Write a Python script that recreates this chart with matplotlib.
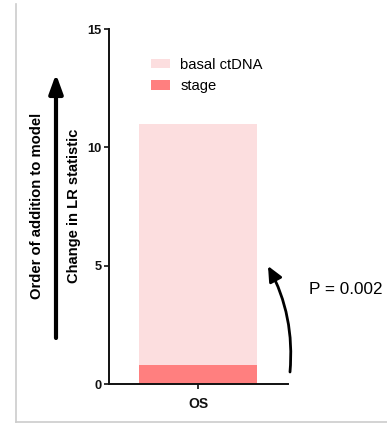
import matplotlib.pyplot as plt
from matplotlib.lines import Line2D
from matplotlib.patches import FancyArrowPatch

plt.rcParams["font.family"] = ["Liberation Sans", "DejaVu Sans"]

# change in LR statistic for each term, stacked in order of addition
outcomes = ["OS"]
terms = ["stage", "basal ctDNA"]
stage_lr = [0.8]
ctdna_lr = [10.2]
colors = {"stage": "#ff7f7f", "basal ctDNA": "#fcdedf"}
p_label = "P = 0.002"
y_ticks = [0, 5, 10, 15]

W, H = 387, 423
fig = plt.figure(figsize=(W / 100, H / 100), dpi=100)
ax = fig.add_axes([109 / W, 1 - 384 / H, 179 / W, 355 / H])

x = list(range(len(outcomes)))
ax.bar(x, stage_lr, width=1.0, color=colors["stage"], label="stage", zorder=2)
ax.bar(x, ctdna_lr, width=1.0, bottom=stage_lr, color=colors["basal ctDNA"],
       label="basal ctDNA", zorder=2)

ax.set_xlim(-0.754, 0.763)
ax.set_ylim(0, 15)
ax.set_yticks(y_ticks)
ax.set_xticks(x)
ax.set_xticklabels(outcomes)
for side in ("top", "right"):
    ax.spines[side].set_visible(False)
for side in ("left", "bottom"):
    ax.spines[side].set_linewidth(1.4)
    ax.spines[side].set_color("#111111")
ax.tick_params(axis="both", length=3.5, width=1.2, colors="#111111")
ax.tick_params(axis="y", pad=2)
ax.tick_params(axis="x", pad=6)
for lab in ax.get_yticklabels():
    lab.set_fontweight("bold")
    lab.set_fontsize(9.3)
for lab in ax.get_xticklabels():
    lab.set_fontweight("bold")
    lab.set_fontsize(10)

handles, labels = ax.get_legend_handles_labels()
ax.legend(handles[::-1], labels[::-1], loc="upper left",
          bbox_to_anchor=(151 / W, 1 - 58 / H), bbox_transform=fig.transFigure,
          frameon=False, fontsize=10.6, borderpad=0, borderaxespad=0,
          handlelength=1.3, handleheight=0.6, handletextpad=0.7,
          labelspacing=0.5)

# y-axis titles and the "order of addition" arrow
fig.text(37 / W, 1 - 206 / H, "Order of addition to model", rotation=90,
         ha="center", va="center", fontsize=10.7, fontweight="bold")
fig.text(74 / W, 1 - 205.5 / H, "Change in LR statistic", rotation=90,
         ha="center", va="center", fontsize=10.6, fontweight="bold")
fig.add_artist(FancyArrowPatch((56 / W, 1 - 338 / H), (56 / W, 1 - 74 / H),
                               transform=fig.transFigure,
                               arrowstyle="-|>,head_length=8.8,head_width=3.2",
                               mutation_scale=1.3, lw=3.0, color="black",
                               shrinkA=0, shrinkB=0))

# curved arrow for the test between the nested models
fig.add_artist(FancyArrowPatch((290 / W, 1 - 372 / H), (268 / W, 1 - 266 / H),
                               transform=fig.transFigure,
                               connectionstyle="arc3,rad=0.15",
                               arrowstyle="-|>,head_length=7,head_width=3.2",
                               mutation_scale=1.3, lw=2.0, color="black",
                               shrinkA=0, shrinkB=0))
fig.text(309 / W, 1 - 290 / H, p_label, ha="left", va="center", fontsize=12.3)

# light frame on the left and bottom
frame = "#cccccc"
fig.add_artist(Line2D([16 / W, 16 / W], [1 - 4 / H, 1 - 421.5 / H],
                      transform=fig.transFigure, color=frame, lw=1.2))
fig.add_artist(Line2D([16 / W, 1.0], [1 - 421.5 / H, 1 - 421.5 / H],
                      transform=fig.transFigure, color=frame, lw=1.2))

fig.savefig("out.png", dpi=100)
